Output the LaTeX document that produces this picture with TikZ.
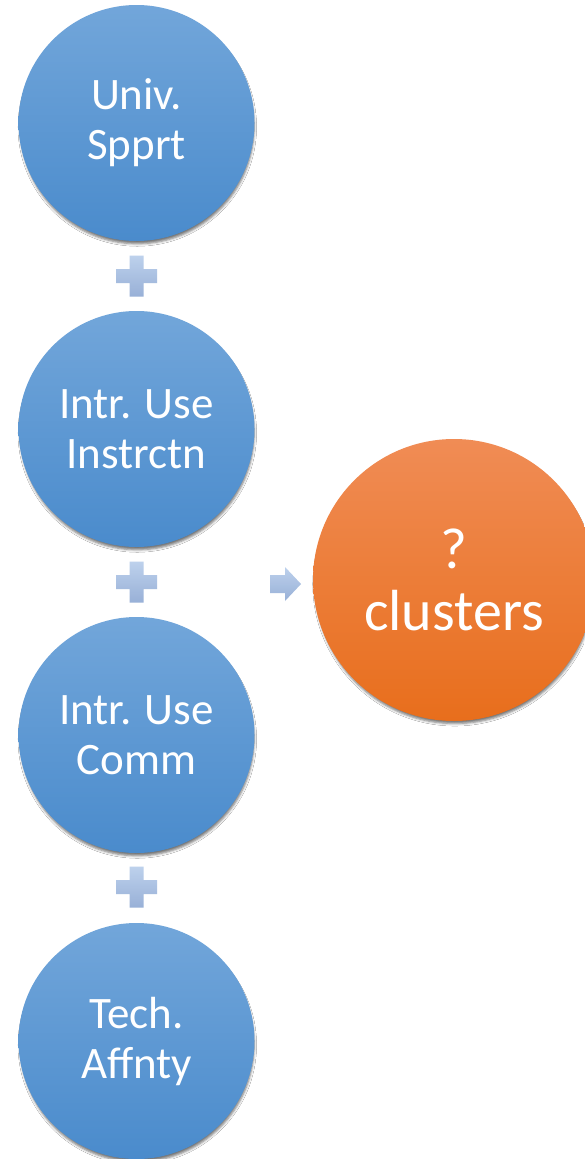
\documentclass[tikz,border=0pt]{standalone}
\usepackage{fontspec}
\setmainfont{Carlito}
\usetikzlibrary{shadows.blur}

\definecolor{blueTop}{HTML}{72A6DA}
\definecolor{blueMid}{HTML}{5A9BD8}
\definecolor{blueBot}{HTML}{4A8BCC}
\definecolor{orangeTop}{HTML}{F08C55}
\definecolor{orangeMid}{HTML}{F27E31}
\definecolor{orangeBot}{HTML}{E86E1C}
\definecolor{signTop}{HTML}{BDD1EC}
\definecolor{signBot}{HTML}{98B0D7}

\tikzset{
  softshadow/.style={blur shadow={shadow xshift=0.8pt, shadow yshift=-4pt,
      shadow blur radius=2.5pt, shadow scale=0.99, shadow opacity=55}},
  factor/.style={circle, minimum size=236pt, inner sep=0pt,
    top color=blueTop, middle color=blueMid, bottom color=blueBot,
    text=white, align=center, font=\fontsize{45}{50}\selectfont,
    softshadow},
  result/.style={circle, minimum size=282pt, inner sep=0pt,
    top color=orangeTop, middle color=orangeMid, bottom color=orangeBot,
    text=white, align=center, font=\fontsize{58}{62}\selectfont,
    softshadow},
  sign/.style={top color=signTop, bottom color=signBot, draw=none},
}

\begin{document}
\begin{tikzpicture}[x=1pt, y=-1pt]
  \useasboundingbox (0,0) rectangle (584,1159);
  \fill[white] (0,0) rectangle (584,1159);

  % the four input factors
  \node[factor] (univ)  at (136.5,123)  {Univ.\\Spprt};
  \node[factor] (instr) at (136.5,429)  {Intr. Use\\Instrctn};
  \node[factor] (comm)  at (136.5,735)  {Intr. Use\\Comm};
  \node[factor] (tech)  at (136.5,1041) {Tech.\\Affnty};

  % the outcome
  \node[result] (clus) at (454,580) {?\\clusters};

  % plus signs between the factors
  \foreach \cy/\nm in {276/p1, 582/p2, 887/p3}{
    \coordinate (\nm) at (136.5,\cy);
    \path[sign] ([shift={(-7,-20.5)}]\nm) -- ([shift={(7,-20.5)}]\nm)
      -- ([shift={(7,-7)}]\nm) -- ([shift={(20.5,-7)}]\nm)
      -- ([shift={(20.5,7)}]\nm) -- ([shift={(7,7)}]\nm)
      -- ([shift={(7,20.5)}]\nm) -- ([shift={(-7,20.5)}]\nm)
      -- ([shift={(-7,7)}]\nm) -- ([shift={(-20.5,7)}]\nm)
      -- ([shift={(-20.5,-7)}]\nm) -- ([shift={(-7,-7)}]\nm) -- cycle;
  }

  % arrow pointing at the outcome
  \coordinate (arr) at (285,584);
  \path[sign] ([shift={(-15,-9)}]arr) -- ([shift={(0,-9)}]arr)
    -- ([shift={(0,-17)}]arr) -- ([shift={(16,0)}]arr)
    -- ([shift={(0,17)}]arr) -- ([shift={(0,9)}]arr)
    -- ([shift={(-15,9)}]arr) -- cycle;
\end{tikzpicture}
\end{document}
